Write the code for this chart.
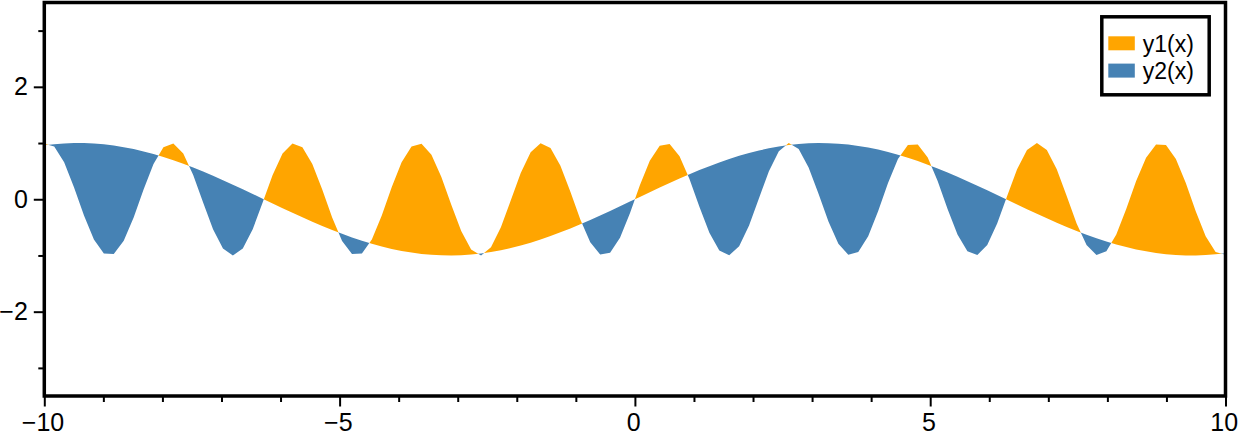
<!DOCTYPE html>
<html>
<head>
<meta charset="utf-8">
<script src="https://cdn.jsdelivr.net/npm/d3@7"></script>
<style>
  html, body { margin: 0; padding: 0; background: #fff; }
  .chart-svg { display: block; font-family: "Liberation Sans", Helvetica, Arial, sans-serif; }
</style>
</head>
<body>
<div id="chart"></div>
<script>
const xValues = [
  -10.000, -9.832, -9.664, -9.496, -9.328, -9.160, -8.992, -8.824, -8.655, -8.487,
  -8.319, -8.151, -7.983, -7.815, -7.647, -7.479, -7.311, -7.143, -6.975, -6.807,
  -6.639, -6.471, -6.303, -6.134, -5.966, -5.798, -5.630, -5.462, -5.294, -5.126,
  -4.958, -4.790, -4.622, -4.454, -4.286, -4.118, -3.950, -3.782, -3.613, -3.445,
  -3.277, -3.109, -2.941, -2.773, -2.605, -2.437, -2.269, -2.101, -1.933, -1.765,
  -1.597, -1.429, -1.261, -1.092, -0.924, -0.756, -0.588, -0.420, -0.252, -0.084,
  0.084, 0.252, 0.420, 0.588, 0.756, 0.924, 1.092, 1.261, 1.429, 1.597,
  1.765, 1.933, 2.101, 2.269, 2.437, 2.605, 2.773, 2.941, 3.109, 3.277,
  3.445, 3.613, 3.782, 3.950, 4.118, 4.286, 4.454, 4.622, 4.790, 4.958,
  5.126, 5.294, 5.462, 5.630, 5.798, 5.966, 6.134, 6.303, 6.471, 6.639,
  6.807, 6.975, 7.143, 7.311, 7.479, 7.647, 7.815, 7.983, 8.151, 8.319,
  8.487, 8.655, 8.824, 8.992, 9.160, 9.328, 9.496, 9.664, 9.832, 10.000,
];

// fast wave (orange where it is above the other one)
const y1Values = [
  0.988, 0.940, 0.657, 0.211, -0.287, -0.714, -0.963, -0.973, -0.740, -0.324,
  0.174, 0.628, 0.926, 0.993, 0.813, 0.431, -0.058, -0.533, -0.876, -1.000,
  -0.875, -0.533, -0.058, 0.432, 0.814, 0.993, 0.926, 0.628, 0.173, -0.324,
  -0.741, -0.973, -0.963, -0.714, -0.287, 0.212, 0.658, 0.940, 0.988, 0.790,
  0.396, -0.097, -0.566, -0.894, -0.999, -0.856, -0.500, -0.019, 0.466, 0.836,
  0.997, 0.910, 0.597, 0.135, -0.360, -0.766, -0.981, -0.952, -0.686, -0.249,
  0.250, 0.686, 0.952, 0.981, 0.766, 0.360, -0.135, -0.597, -0.910, -0.997,
  -0.835, -0.466, 0.019, 0.500, 0.856, 0.999, 0.894, 0.566, 0.097, -0.396,
  -0.790, -0.988, -0.940, -0.658, -0.212, 0.287, 0.714, 0.963, 0.973, 0.741,
  0.324, -0.174, -0.628, -0.926, -0.993, -0.814, -0.431, 0.058, 0.533, 0.876,
  1.000, 0.876, 0.533, 0.058, -0.431, -0.814, -0.993, -0.926, -0.628, -0.174,
  0.324, 0.740, 0.973, 0.963, 0.714, 0.287, -0.212, -0.658, -0.940, -0.988,
];

// slow wave (blue where it is above the other one)
const y2Values = [
  0.959, 0.979, 0.993, 0.999, 0.999, 0.991, 0.977, 0.955, 0.927, 0.892,
  0.851, 0.804, 0.751, 0.693, 0.630, 0.563, 0.492, 0.417, 0.339, 0.259,
  0.177, 0.094, 0.010, -0.074, -0.158, -0.240, -0.321, -0.399, -0.475, -0.547,
  -0.615, -0.679, -0.738, -0.792, -0.841, -0.883, -0.919, -0.949, -0.972, -0.988,
  -0.998, -1.000, -0.995, -0.983, -0.964, -0.939, -0.906, -0.868, -0.823, -0.772,
  -0.716, -0.655, -0.589, -0.519, -0.446, -0.369, -0.290, -0.209, -0.126, -0.042,
  0.042, 0.126, 0.209, 0.290, 0.369, 0.446, 0.519, 0.589, 0.655, 0.716,
  0.772, 0.823, 0.868, 0.906, 0.939, 0.964, 0.983, 0.995, 1.000, 0.998,
  0.988, 0.972, 0.949, 0.919, 0.883, 0.841, 0.792, 0.738, 0.679, 0.615,
  0.547, 0.475, 0.399, 0.321, 0.240, 0.158, 0.074, -0.010, -0.094, -0.177,
  -0.259, -0.339, -0.417, -0.492, -0.563, -0.630, -0.693, -0.751, -0.804, -0.851,
  -0.892, -0.927, -0.955, -0.977, -0.991, -0.999, -0.999, -0.993, -0.979, -0.959,
];

const seriesNames = ["y1(x)", "y2(x)"];
const seriesColors = ["orange", "steelblue"];

const xDomain = [-10, 10];
const yDomain = [-3.5, 3.5];
const xMajorTicks = [-10, -5, 0, 5, 10];
const xMinorTicks = [-9, -8, -7, -6, -4, -3, -2, -1, 1, 2, 3, 4, 6, 7, 8, 9];
const yMajorTicks = [-2, 0, 2];
const yMinorTicks = [-3, -1, 1, 3];

class FillBetweenChart {
  constructor({ el }) {
    this.el = el;
    this.setup();
    this.scaffold();
    this.render();
  }

  setup() {
    this.width = 1238;
    this.height = 432;
    this.marginTop = 2.5;
    this.marginRight = 12.5;
    this.marginBottom = 36;
    this.marginLeft = 44.3;

    this.majorTickSize = 10.5;
    this.minorTickSize = 6;
    this.fontSize = 25;
    this.legendFontSize = 23;

    this.x = d3
      .scaleLinear()
      .domain(xDomain)
      .range([this.marginLeft, this.width - this.marginRight]);
    this.y = d3
      .scaleLinear()
      .domain(yDomain)
      .range([this.height - this.marginBottom, this.marginTop]);

    this.data = xValues.map((x, i) => ({ x, y1: y1Values[i], y2: y2Values[i] }));

    const [bottom, top] = this.y.range();
    // region under a curve (used as clip) and region over a curve (filled)
    this.below = (key) =>
      d3.area().x((d) => this.x(d.x)).y0(bottom).y1((d) => this.y(d[key]));
    this.above = (key) =>
      d3.area().x((d) => this.x(d.x)).y0((d) => this.y(d[key])).y1(top);
  }

  scaffold() {
    this.svg = d3
      .select(this.el)
      .append("svg")
      .attr("class", "chart-svg")
      .attr("width", this.width)
      .attr("height", this.height)
      .attr("viewBox", [0, 0, this.width, this.height]);
    this.defs = this.svg.append("defs");
    this.gAreas = this.svg.append("g").attr("class", "areas-g");
    this.gX = this.svg.append("g").attr("class", "axis-g axis-g--x");
    this.gY = this.svg.append("g").attr("class", "axis-g axis-g--y");
    this.gFrame = this.svg.append("g").attr("class", "frame-g");
    this.gLegend = this.svg.append("g").attr("class", "legend-g");
  }

  render() {
    this.renderAreas();
    this.renderXAxis();
    this.renderYAxis();
    this.renderFrame();
    this.renderLegend();
  }

  renderAreas() {
    // orange: above y2 and below y1; blue: above y1 and below y2
    const pairs = [
      { id: "clip-y1", over: "y2", under: "y1", color: seriesColors[0] },
      { id: "clip-y2", over: "y1", under: "y2", color: seriesColors[1] },
    ];

    this.defs
      .selectAll("clipPath")
      .data(pairs)
      .join("clipPath")
      .attr("id", (d) => d.id)
      .append("path")
      .attr("d", (d) => this.below(d.under)(this.data));

    this.gAreas
      .selectAll(".area-path")
      .data(pairs)
      .join("path")
      .attr("class", "area-path")
      .attr("clip-path", (d) => `url(#${d.id})`)
      .attr("fill", (d) => d.color)
      .attr("d", (d) => this.above(d.over)(this.data));
  }

  styleAxis(g) {
    g.select(".domain").remove();
    g.attr("font-size", this.fontSize)
      .attr("font-family", null)
      .selectAll("line")
      .attr("stroke-width", 2);
    g.selectAll("text").attr("fill", "#000");
  }

  renderXAxis() {
    const y0 = this.height - this.marginBottom;
    this.gX
      .append("g")
      .attr("transform", `translate(0,${y0})`)
      .call(
        d3
          .axisBottom(this.x)
          .tickValues(xMinorTicks)
          .tickSize(this.minorTickSize)
          .tickFormat("")
      )
      .call((g) => this.styleAxis(g));
    this.gX
      .append("g")
      .attr("transform", `translate(0,${y0})`)
      .call(
        d3
          .axisBottom(this.x)
          .tickValues(xMajorTicks)
          .tickSize(this.majorTickSize)
          .tickPadding(7)
          .tickFormat(d3.format("d"))
      )
      .call((g) => this.styleAxis(g))
      .call((g) => g.selectAll("text").attr("dx", "-0.07em"));
  }

  renderYAxis() {
    this.gY
      .append("g")
      .attr("transform", `translate(${this.marginLeft},0)`)
      .call(
        d3
          .axisLeft(this.y)
          .tickValues(yMinorTicks)
          .tickSize(this.minorTickSize)
          .tickFormat("")
      )
      .call((g) => this.styleAxis(g));
    this.gY
      .append("g")
      .attr("transform", `translate(${this.marginLeft},0)`)
      .call(
        d3
          .axisLeft(this.y)
          .tickValues(yMajorTicks)
          .tickSize(this.majorTickSize)
          .tickPadding(6)
          .tickFormat(d3.format("d"))
      )
      .call((g) => this.styleAxis(g));
  }

  renderFrame() {
    const [x0, x1] = this.x.range();
    const [y1, y0] = this.y.range();
    this.gFrame
      .append("rect")
      .attr("x", x0)
      .attr("y", y0)
      .attr("width", x1 - x0)
      .attr("height", y1 - y0)
      .attr("fill", "none")
      .attr("stroke", "#000")
      .attr("stroke-width", 3.5);
  }

  renderLegend() {
    const box = { x: 1101.8, y: 16.8, w: 107.4, h: 78 };
    const rowHeight = 27.3;

    this.gLegend
      .append("rect")
      .attr("x", box.x)
      .attr("y", box.y)
      .attr("width", box.w)
      .attr("height", box.h)
      .attr("fill", "#fff")
      .attr("stroke", "#000")
      .attr("stroke-width", 3.5);

    const item = this.gLegend
      .selectAll(".legend-item")
      .data(seriesNames)
      .join("g")
      .attr("class", "legend-item")
      .attr("transform", (_, i) => `translate(${box.x + 6.5},${36.3 + i * rowHeight})`);

    item
      .append("rect")
      .attr("width", 26.5)
      .attr("height", 14)
      .attr("fill", (_, i) => seriesColors[i]);

    item
      .append("text")
      .attr("x", 34.5)
      .attr("y", 15.5)
      .attr("font-size", this.legendFontSize)
      .attr("fill", "#000")
      .text((d) => d);
  }
}

new FillBetweenChart({ el: document.getElementById("chart") });
</script>
</body>
</html>
